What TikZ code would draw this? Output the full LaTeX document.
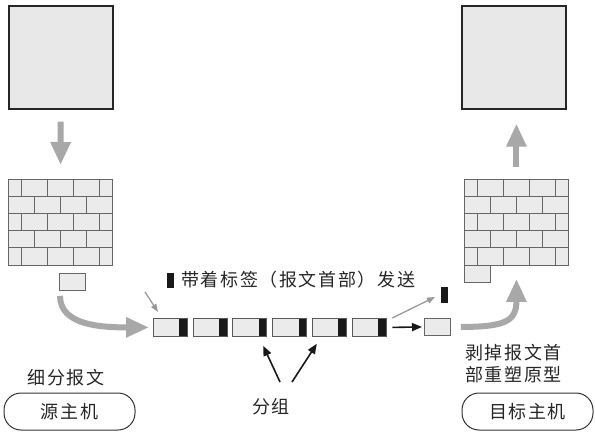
\documentclass[tikz,border=0pt]{standalone}
\usepackage{fontspec}
\newfontfamily\cjk{Noto Sans CJK SC}[LetterSpace=9]
\usetikzlibrary{arrows.meta,calc}
\begin{document}
\begin{tikzpicture}[x=1pt,y=-1pt,
  txt/.style={font=\cjk\fontsize{18}{22}\selectfont,text=black!85,inner sep=0pt},
  hostsq/.style={draw=black!85,line width=1.6pt,fill=black!9,minimum width=104pt,minimum height=103pt,inner sep=0pt,anchor=north west},
  wallbox/.style={draw=black!60,line width=0.9pt,fill=black!8,minimum width=104pt,minimum height=86pt,inner sep=0pt,anchor=north west},
  brickbox/.style={draw=black!60,line width=0.9pt,fill=black!8,minimum width=26pt,minimum height=17pt,inner sep=0pt,anchor=north west},
  pktbox/.style={draw=black!65,line width=0.8pt,fill=black!8,minimum width=34pt,minimum height=18pt,inner sep=0pt,anchor=north west,
    path picture={\fill[black!90] ([xshift=-8pt]path picture bounding box.north east) rectangle (path picture bounding box.south east);}},
  tagbox/.style={fill=black!90,minimum width=7pt,minimum height=16pt,inner sep=0pt,anchor=north west},
  hostbox/.style={draw=black!80,line width=1pt,rounded corners=17pt,minimum width=131pt,minimum height=37pt,inner sep=0pt},
  gbig/.style={draw=black!34,line width=6pt,-{Triangle[width=19pt,length=23pt]}},
  gthin/.style={draw=black!40,line width=1.3pt,-{Triangle[width=6pt,length=8pt]}},
  barrow/.style={draw=black!90,line width=1.6pt,-{Triangle[width=8pt,length=10pt]}}
]
\useasboundingbox (0,0) rectangle (595,436);

% host squares
\node[hostsq] (sqL) at (8,5) {};
\node[hostsq] (sqR) at (461,5) {};

% walls
\node[wallbox] (wallL) at (8,179) {};
\node[wallbox] (wallR) at (464,179) {};
\foreach \w in {wallL,wallR}{
  \begin{scope}[shift={(\w.north west)},draw=black!60,line width=0.9pt]
    \foreach \r in {1,...,4} \draw (0,{17.2*\r}) -- (104,{17.2*\r});
    \foreach \r in {0,2,4} \foreach \xx in {13.5,39.5,65.5,91.5}
      \draw (\xx,{17.2*\r}) -- (\xx,{17.2*(\r+1)});
    \foreach \r in {1,3} \foreach \xx in {26,52,78}
      \draw (\xx,{17.2*\r}) -- (\xx,{17.2*(\r+1)});
  \end{scope}
}
\node[brickbox] (brickL) at (59,273) {};
\node[brickbox] (brickR) at (464,265) {};

% packets
\foreach \i in {0,...,5} \node[pktbox] (p\i) at ({153+39.7*\i},318) {};
\node[brickbox,minimum height=17pt] (plain) at (424,318) {};
\node[tagbox] (tag) at (441,287) {};

% legend
\node[tagbox,minimum height=15pt] (legtag) at (167,273) {};
\node[txt,anchor=west] (legtxt) at (181,280) {带着标签（报文首部）发送};

% labels
\node[txt] (split) at (66,378) {细分报文};
\node[hostbox] (src) at (69.5,411.5) {};
\node[txt] at (src.center) {源主机};
\node[txt] (fz) at (271,407) {分组};
\node[txt,anchor=west,align=left] (strip) at (465,364) {剥掉报文首\\部重塑原型};
\node[hostbox] (dst) at (527.5,411.5) {};
\node[txt] at (dst.center) {目标主机};

% big gray arrows
\draw[gbig,shorten <=12pt,shorten >=14pt] (sqL.south) -- (wallL.north);
\draw[gbig,shorten <=12pt,shorten >=14pt] (wallR.north) -- (wallR.north |- sqR.south);
\draw[gbig,shorten >=4pt] ([xshift=1pt,yshift=-5pt]brickL.south west) .. controls +(0,30) and +(-50,0) .. (p0.west);
\draw[gbig] ([xshift=10pt]plain.east) .. controls +(45,0) and +(0,42) .. ([yshift=-13pt]wallR.south);

% thin arrows
\coordinate (gs) at (145,292);
\draw[gthin] (gs) -- ([xshift=5pt,yshift=6pt]p0.north west);
\draw[gthin] ([xshift=6pt]p5.north east) -- ([xshift=-6pt,yshift=-10pt]tag.north west);
\draw[barrow] ([xshift=6pt]p5.east) -- ([xshift=-2pt]plain.west);
\coordinate (fa) at (280,382);
\coordinate (fb) at (292,382);
\draw[barrow] (fa) -- ([xshift=-4pt,yshift=-9pt]p2.south east);
\draw[barrow] (fb) -- ([xshift=5pt,yshift=-7pt]p4.south west);
\end{tikzpicture}
\end{document}
